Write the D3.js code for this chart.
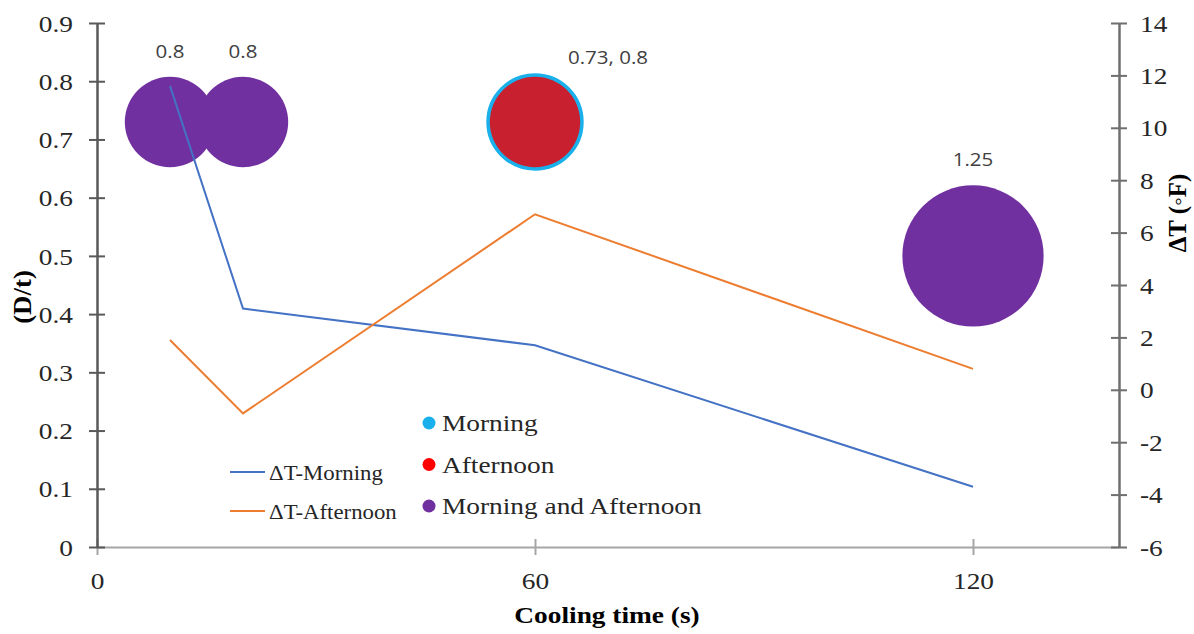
<!DOCTYPE html>
<html><head><meta charset="utf-8">
<script src="https://cdn.jsdelivr.net/npm/d3@7"></script>
<style>
body{margin:0;background:#fff;}
svg{display:block;}
</style></head>
<body>
<svg id="c" width="1194" height="634"></svg>
<script>
// ---- data ----
const xTicks = [0, 60, 120];
const leftTicks = [0, 0.1, 0.2, 0.3, 0.4, 0.5, 0.6, 0.7, 0.8, 0.9];
const rightTicks = [-6, -4, -2, 0, 2, 4, 6, 8, 10, 12, 14];

const lineTime = [10, 20, 60, 120];
const dtMorning = [11.6, 3.1, 1.7, -3.7];
const dtAfternoon = [1.9, -0.9, 6.7, 0.8];

const bubbleTime = [10, 20, 60, 120];
const bubbleDt = [0.73, 0.73, 0.73, 0.5];
const bubbleSize = [0.8, 0.8, 0.8, 1.25];
const bubbleGroup = ["Morning and Afternoon", "Morning and Afternoon", "Afternoon", "Morning and Afternoon"];
const bubbleOutline = [null, null, "Morning", null];
const bubbleLabels = ["0.8", "0.8", "0.73, 0.8", "1.25"];

const lineSeries = ["\u0394T-Morning", "\u0394T-Afternoon"];
const bubbleSeries = ["Morning", "Afternoon", "Morning and Afternoon"];

// ---- styles ----
const lineColors = {"\u0394T-Morning": "#4472C4", "\u0394T-Afternoon": "#ED7D31"};
const bubbleFill = {"Morning": "#1AB0EC", "Afternoon": "#C8202F", "Morning and Afternoon": "#7030A0"};
const legendFill = {"Morning": "#1AB0EC", "Afternoon": "#FF0000", "Morning and Afternoon": "#7030A0"};
const serif = "'Liberation Serif', 'Times New Roman', serif";
const sans = "'Open Sans', 'Noto Sans', sans-serif";
const SX = 1.14;

const svg = d3.select("#c");
const x = d3.scaleLinear().domain([0, 140]).range([97, 1119]);
const yL = d3.scaleLinear().domain([0, 0.9]).range([547, 23]);
const yR = d3.scaleLinear().domain([-6, 14]).range([547, 23]);
const r = d3.scaleLinear().domain([0, 1]).range([0, 56.5]);

function stretch(sel){
  sel.each(function(){
    const t = d3.select(this);
    const tx = +t.attr("x") || 0, ty = +t.attr("y") || 0;
    t.attr("x", 0).attr("y", 0)
     .attr("transform", `translate(${tx},${ty}) scale(${SX},1)`);
  });
}

// ---- bubbles ----
const bubbles = bubbleTime.map((t, i) => ({t, v: bubbleDt[i], s: bubbleSize[i], g: bubbleGroup[i], o: bubbleOutline[i], lab: bubbleLabels[i]}));
const gB = svg.append("g");
gB.selectAll("circle.outline").data(bubbles.filter(d => d.o)).join("circle")
  .attr("cx", d => x(d.t)).attr("cy", d => yL(d.v)).attr("r", d => r(d.s))
  .attr("fill", d => bubbleFill[d.o]).attr("stroke", d => bubbleFill[d.o]).attr("stroke-width", 7);
gB.selectAll("circle.b").data(bubbles).join("circle")
  .attr("cx", d => x(d.t)).attr("cy", d => yL(d.v)).attr("r", d => r(d.s))
  .attr("fill", d => bubbleFill[d.g]);
gB.selectAll("text").data(bubbles).join("text")
  .attr("x", d => x(d.t) + (d.o ? 73 : 0))
  .attr("y", d => yL(d.v) - r(d.s) - (d.o ? 13 : 19))
  .attr("text-anchor", "middle")
  .style("font-family", sans).style("font-size", "18px").attr("fill", "#404040")
  .text(d => d.lab)
  .call(stretch);

// ---- lines ----
const lineGen = d3.line().x(d => x(d[0])).y(d => yR(d[1]));
[[lineSeries[0], dtMorning], [lineSeries[1], dtAfternoon]].forEach(([name, vals]) => {
  svg.append("path").datum(lineTime.map((t, i) => [t, vals[i]]))
    .attr("d", lineGen).attr("fill", "none")
    .attr("stroke", lineColors[name]).attr("stroke-width", 2);
});

// ---- axes ----
function styleAxis(g, color, width, tickLen, vertical){
  g.attr("font-family", null).attr("font-size", null);
  g.select(".domain").attr("stroke", color).attr("stroke-width", width);
  g.selectAll(".tick line").attr("stroke", color).attr("stroke-width", 2);
  if (vertical) g.selectAll(".tick line").attr("x1", -tickLen).attr("x2", tickLen);
  else g.selectAll(".tick line").attr("y1", -tickLen).attr("y2", tickLen);
  g.selectAll(".tick text").style("font-family", serif).style("font-size", "24px").attr("fill", "#262626");
}
const gx = svg.append("g").attr("transform", "translate(0,547)")
  .call(d3.axisBottom(x).tickValues(xTicks).tickSizeOuter(0).tickPadding(0).tickFormat(d => String(d)));
styleAxis(gx, "#a6a6a6", 2, 8, false);
gx.selectAll(".tick text").attr("dy", null).attr("y", 42);
gx.selectAll(".tick text").call(stretch);

const gl = svg.append("g").attr("transform", "translate(97,0)")
  .call(d3.axisLeft(yL).tickValues(leftTicks).tickSizeOuter(0).tickFormat(d => d === 0 ? "0" : d3.format(".1f")(d)));
styleAxis(gl, "#595959", 2.5, 8, true);
gl.selectAll(".tick text").attr("dy", "0.34em").attr("x", 0)
  .attr("transform", `translate(-24,0) scale(${SX},1)`);

const gr = svg.append("g").attr("transform", "translate(1119,0)")
  .call(d3.axisRight(yR).tickValues(rightTicks).tickSizeOuter(0).tickFormat(d => String(d)));
styleAxis(gr, "#6f6f6f", 2.5, 8, true);
gr.selectAll(".tick text").attr("dy", "0.34em").attr("x", 0)
  .attr("transform", `translate(21,0) scale(${SX},1)`);

// ---- axis titles ----
svg.append("text").attr("x", 607).attr("y", 623).attr("text-anchor", "middle")
  .style("font-family", serif).style("font-weight", "bold").style("font-size", "24px").attr("fill", "#000")
  .text("Cooling time (s)").call(stretch);
svg.append("text").attr("transform", "translate(31,297) rotate(-90) scale(1.12,1.05)")
  .attr("text-anchor", "middle")
  .style("font-family", serif).style("font-weight", "bold").style("font-size", "24px").attr("fill", "#000")
  .text("(D/t)");
svg.append("text").attr("transform", "translate(1186,213) rotate(-90) scale(1.08,1.05)")
  .attr("text-anchor", "middle")
  .style("font-family", serif).style("font-weight", "bold").style("font-size", "23px").attr("fill", "#000")
  .text("\u0394T (\u25E6F)");

// ---- legends ----
const gl1 = svg.append("g");
lineSeries.forEach((name, i) => {
  const yy = 472 + i * 39;
  gl1.append("line").attr("x1", 230).attr("x2", 265).attr("y1", yy).attr("y2", yy)
    .attr("stroke", lineColors[name]).attr("stroke-width", 2);
  gl1.append("text").attr("x", 269).attr("y", yy + 8)
    .style("font-family", serif).style("font-size", "20px").attr("fill", "#262626")
    .text(name).call(stretch);
});
const gl2 = svg.append("g");
bubbleSeries.forEach((name, i) => {
  const yy = 423 + i * 41.5;
  gl2.append("circle").attr("cx", 429).attr("cy", yy).attr("r", 6.5).attr("fill", legendFill[name]);
  gl2.append("text").attr("x", 442).attr("y", yy + 8)
    .style("font-family", serif).style("font-size", "24px").attr("fill", "#262626")
    .text(name).call(stretch);
});
</script>
</body></html>
